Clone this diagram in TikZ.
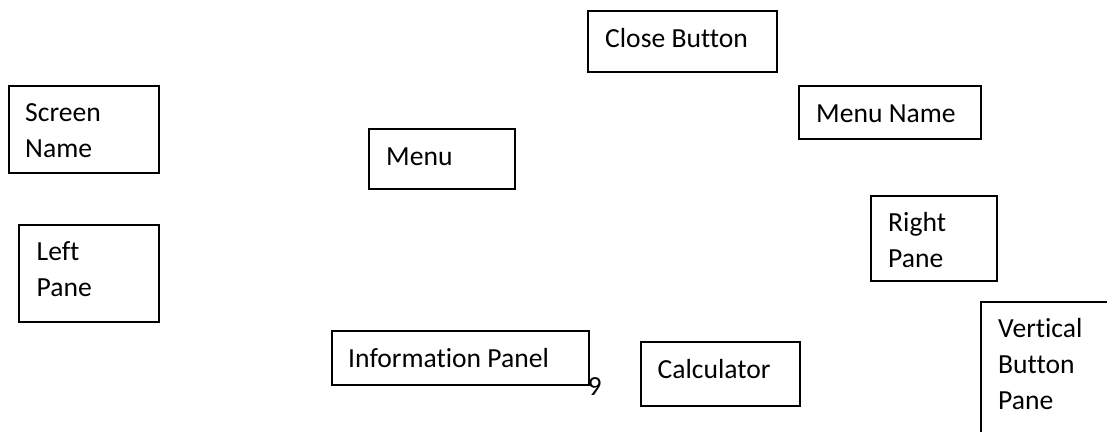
\documentclass[tikz,border=0pt]{standalone}
\usepackage{fontspec}
\setmainfont[RawFeature={-liga}]{Carlito}
\begin{document}
\begin{tikzpicture}[x=1pt,y=-1pt,
  box/.style={draw=black,line width=1.8pt,inner sep=0pt,anchor=north west},
  lbl/.style={inner sep=0pt,anchor=base west,align=left,font=\fontsize{27.6}{35.8}\selectfont}]
\useasboundingbox (0,0) rectangle (1107,431);
\clip (0,0) rectangle (1107,431);
% boxes
\node[box,minimum width=189pt,minimum height=61pt] (closeb) at (587,10) {};
\node[box,minimum width=150pt,minimum height=87pt] (screenb) at (8,85) {};
\node[box,minimum width=182pt,minimum height=53pt] (menunameb) at (798,85) {};
\node[box,minimum width=146pt,minimum height=60pt] (menub) at (368,128) {};
\node[box,minimum width=126pt,minimum height=85pt] (rightb) at (870,195) {};
\node[box,minimum width=140pt,minimum height=97pt] (leftb) at (18,224) {};
\node[box,minimum width=150pt,minimum height=150pt] (vbpb) at (980,301) {};
\node[box,minimum width=257pt,minimum height=54pt] (infob) at (331,330) {};
\node[box,minimum width=159pt,minimum height=64pt] (calcb) at (640,341) {};
% texts (multi-line nodes are placed at the baseline of their last line)
\node[lbl] (closet) at (605,47.7) {Close Button};
\node[lbl] (screent) at (25,157.7) {Screen\\Name};
\node[lbl] (menunamet) at (816,122.3) {Menu Name};
\node[lbl] (menut) at (386,165.7) {Menu};
\node[lbl] (rightt) at (888,267.5) {Right\\Pane};
\node[lbl] (leftt) at (36.5,296.7) {Left\\Pane};
\node[lbl] (vbpt) at (998,409) {Vertical\\Button\\Pane};
\node[lbl] (infot) at (348,367.3) {Information Panel};
\node[lbl] (calct) at (657.5,378.3) {Calculator};
\node[lbl] (ninet) at (587.5,395.7) {9};
\end{tikzpicture}
\end{document}
